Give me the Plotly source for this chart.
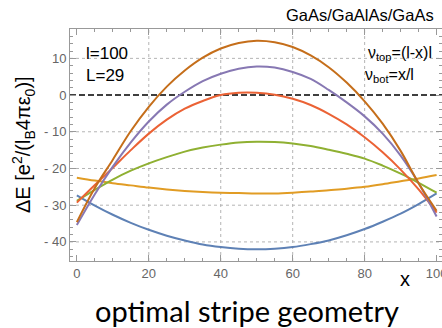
import plotly.graph_objects as go

x_vals = [0, 5, 10, 15, 20, 25, 30, 35, 40, 45, 50, 55, 60, 65, 70, 75, 80, 85, 90, 95, 100]

blue = [-27.3, -30.1, -32.6, -34.8, -36.7, -38.3, -39.6, -40.7, -41.4, -41.85, -42.0,
        -41.85, -41.4, -40.6, -39.6, -38.2, -36.5, -34.5, -32.3, -29.7, -26.8]
orange = [-22.5, -23.3, -24.0, -24.6, -25.2, -25.7, -26.1, -26.4, -26.6, -26.7, -26.8,
          -26.8, -26.6, -26.3, -25.9, -25.5, -25.0, -24.3, -23.5, -22.7, -21.8]
green = [-28.8, -25.8, -23.0, -20.6, -18.6, -16.9, -15.4, -14.3, -13.5, -12.9, -12.7,
         -12.8, -13.2, -13.9, -14.9, -16.0, -17.3, -19.2, -21.4, -23.9, -26.6]
red = [-29.3, -24.5, -19.8, -15.0, -10.5, -6.7, -3.7, -1.6, 0.0, 0.6, 0.6,
       0.1, -1.0, -2.7, -5.1, -8.0, -11.5, -15.6, -20.3, -25.7, -32.0]
purple = [-35.4, -27.0, -19.5, -12.9, -7.2, -2.6, 0.9, 3.8, 5.8, 7.2, 7.8,
          7.5, 6.3, 4.4, 1.4, -2.0, -5.8, -10.5, -16.5, -24.0, -33.1]
brown = [-34.6, -25.3, -17.6, -9.8, -3.2, 2.3, 6.7, 10.2, 12.7, 14.2, 14.8,
         14.4, 13.1, 10.8, 7.6, 3.4, -1.7, -7.8, -15.2, -24.0, -31.5]

series = [blue, orange, green, red, purple, brown]
colors = ["#5E81B5", "#E19C24", "#8FB032", "#EB6235", "#8778B3", "#C56E1A"]

x_ticks = [0, 20, 40, 60, 80, 100]
x_ticktext = ["0", "20", "40", "60", "80", "100"]
y_ticks = [-40, -30, -20, -10, 0, 10]
y_ticktext = ["- 40", "- 30", "- 20", "- 10", "0", "10"]
x_grid = [20, 40, 60, 80]
y_grid = [-40, -30, -20, -10, 10]

fig = go.Figure()
for ys, c in zip(series, colors):
    fig.add_trace(go.Scatter(x=x_vals, y=ys, mode="lines",
                             line=dict(color=c, width=2, shape="spline", smoothing=1.0),
                             showlegend=False, hoverinfo="skip"))

shapes = []
for gx in x_grid:
    shapes.append(dict(type="line", xref="x", yref="paper", x0=gx, x1=gx, y0=0, y1=1,
                       line=dict(color="#b4b4b4", width=1, dash="dot"), layer="below"))
for gy in y_grid:
    shapes.append(dict(type="line", xref="paper", yref="y", x0=0, x1=1, y0=gy, y1=gy,
                       line=dict(color="#b4b4b4", width=1, dash="dot"), layer="below"))
shapes.append(dict(type="line", xref="paper", yref="y", x0=0, x1=1, y0=0, y1=0,
                   line=dict(color="black", width=1.5, dash="6px,3px"), layer="below"))

tickfont = dict(family="Liberation Sans, Arial, sans-serif", size=13, color="#666666")
axis_common = dict(showline=True, linecolor="#999999", linewidth=1, mirror="ticks",
                   ticks="inside", ticklen=6, tickcolor="#999999", showgrid=False,
                   zeroline=False, tickfont=tickfont, ticklabeloverflow="allow",
                   automargin=False)

fig.update_layout(
    width=442, height=328,
    margin=dict(l=70, r=0, t=29, b=67, autoexpand=False),
    plot_bgcolor="white", paper_bgcolor="white",
    xaxis=dict(range=[-1.9, 101.5], tickmode="array", tickvals=x_ticks, ticktext=x_ticktext,
               minor=dict(tickmode="linear", tick0=0, dtick=5, ticks="inside", ticklen=3,
                          tickcolor="#999999"),
               **axis_common),
    yaxis=dict(range=[-45.2, 18], tickmode="array", tickvals=y_ticks, ticktext=y_ticktext,
               minor=dict(tickmode="linear", tick0=0, dtick=2, ticks="inside", ticklen=3,
                          tickcolor="#999999"),
               **axis_common),
    shapes=shapes,
)

txt = dict(family="Liberation Sans, Arial, sans-serif", color="black")


def add_pix(text, px, py, font, xanchor, textangle=0):
    fig.add_annotation(x=(px - 70) / 372, y=(261 - py) / 232, xref="paper", yref="paper",
                       text=text, showarrow=False, font=font, xanchor=xanchor,
                       yanchor="middle", textangle=textangle)


add_pix("GaAs/GaAlAs/GaAs", 436, 15, dict(size=16.5, **txt), "right")
add_pix("l=100", 84, 53, dict(size=17, **txt), "left")
add_pix("L=29", 84, 75, dict(size=17, **txt), "left")
add_pix("ν<sub>top</sub>=(l-x)l", 434, 54, dict(size=16, **txt), "right")
add_pix("ν<sub>bot</sub>=x/l", 363, 75, dict(size=16, **txt), "left")
add_pix("x", 405, 279, dict(size=20, **txt), "center")
add_pix("ΔE [e<sup>2</sup>/(l<sub>B</sub>4πε<sub>0</sub>)]", 23, 145, dict(size=20, **txt),
        "center", textangle=-90)
add_pix("optimal stripe geometry", 247, 310,
        dict(family="Lato, Open Sans, sans-serif", size=29, color="black"), "center")

fig.write_html("out.html")
